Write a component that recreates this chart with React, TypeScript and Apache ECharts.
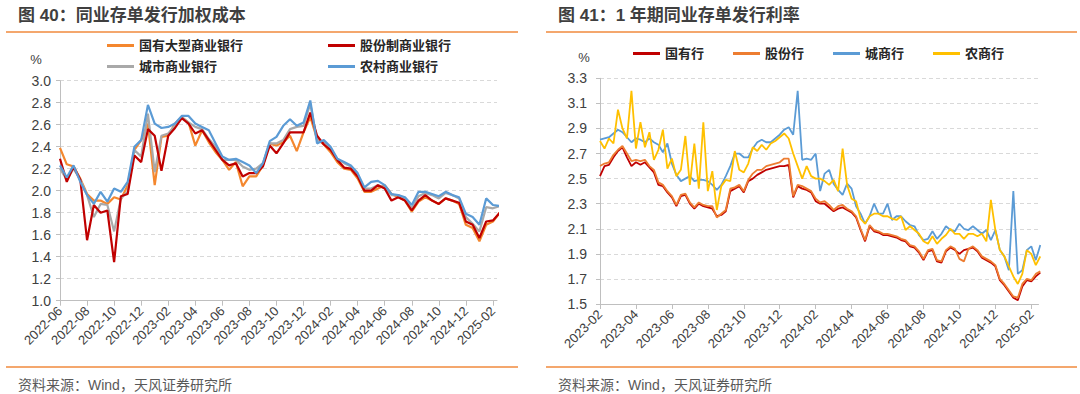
import React, { useEffect, useRef } from "react";
import * as echarts from "echarts";

const FONT = '"Liberation Sans", Arial, "Noto Sans CJK SC", sans-serif';

// ---------- Left chart: 同业存单发行加权成本 (semi-monthly samples from 2022-06) ----------
const leftTickLabels = [
  "2022-06", "2022-08", "2022-10", "2022-12", "2023-02", "2023-04", "2023-06", "2023-08",
  "2023-10", "2023-12", "2024-02", "2024-04", "2024-06", "2024-08", "2024-10", "2024-12", "2025-02",
];
const LEFT_STEP = 0.5; // months per sample
const leftNames = ["国有大型商业银行", "股份制商业银行", "城市商业银行", "农村商业银行"];
const bigBank = [
  2.39, 2.24, 2.22, 2.11, 1.97, 1.91, 1.91, 1.88, 1.94, 1.92, 2.05, 2.37, 2.46, 2.61, 2.05, 2.49,
  2.5, 2.61, 2.67, 2.62, 2.41, 2.55, 2.44, 2.35, 2.28, 2.19, 2.26, 2.04, 2.13, 2.13, 2.23, 2.43,
  2.41, 2.44, 2.5, 2.36, 2.53, 2.67, 2.47, 2.42, 2.35, 2.26, 2.2, 2.19, 2.11, 1.99, 1.99, 2.02,
  2.05, 1.97, 1.94, 1.91, 1.81, 1.9, 1.94, 1.91, 1.88, 1.93, 1.91, 1.88, 1.69, 1.66, 1.54, 1.69,
  1.72, 1.8,
];
const jointStock = [
  2.29, 2.08, 2.22, 2.1, 1.55, 1.87, 1.8, 1.82, 1.35, 1.95, 1.97, 2.32, 2.26, 2.56, 2.5, 2.18,
  2.5, 2.57, 2.66, 2.61, 2.52, 2.55, 2.46, 2.37, 2.28, 2.23, 2.25, 2.13, 2.16, 2.16, 2.22, 2.41,
  2.34, 2.43, 2.53, 2.53, 2.53, 2.71, 2.5, 2.42, 2.37, 2.28, 2.21, 2.2, 2.13, 2.0, 2.0, 2.05,
  2.02, 1.91, 1.94, 1.91, 1.82, 1.91, 1.96, 1.91, 1.88, 1.93, 1.91, 1.89, 1.72, 1.69, 1.57, 1.72,
  1.73, 1.8,
];
const cityBank = [
  2.2, 2.1, 2.2, 2.1, 1.96, 1.76, 1.88, 1.87, 1.63, 1.93, 1.99, 2.37, 2.31, 2.7, 2.17, 2.5,
  2.52, 2.59, 2.67, 2.62, 2.58, 2.56, 2.47, 2.4, 2.28, 2.28, 2.28, 2.22, 2.19, 2.2, 2.25, 2.43,
  2.43, 2.46, 2.56, 2.58, 2.59, 2.79, 2.46, 2.44, 2.38, 2.29, 2.25, 2.22, 2.14, 2.02, 2.02, 2.05,
  2.03, 1.96, 1.96, 1.93, 1.84, 1.95, 1.98, 1.96, 1.93, 1.98, 1.96, 1.93, 1.76, 1.7, 1.63, 1.85,
  1.84, 1.86,
];
const ruralBank = [
  2.23, 2.12, 2.23, 2.08, 1.96, 1.88, 1.99, 1.9, 2.02, 1.99, 2.08, 2.4, 2.46, 2.78, 2.61, 2.57,
  2.58, 2.61, 2.68, 2.68, 2.61, 2.58, 2.55, 2.43, 2.31, 2.28, 2.29, 2.26, 2.23, 2.16, 2.25, 2.45,
  2.49, 2.59, 2.65, 2.59, 2.62, 2.82, 2.43, 2.46, 2.4, 2.29, 2.26, 2.23, 2.16, 2.03, 2.08, 2.09,
  2.05, 1.97, 1.96, 1.94, 1.87, 1.99, 1.99, 1.97, 1.95, 1.99, 1.96, 1.94, 1.79, 1.76, 1.69, 1.93,
  1.87, 1.86,
];

// ---------- Right chart: 1年期同业存单发行利率 (quarter-month samples from 2023-02) ----------
const rightTickLabels = [
  "2023-02", "2023-04", "2023-06", "2023-08", "2023-10", "2023-12", "2024-02",
  "2024-04", "2024-06", "2024-08", "2024-10", "2024-12", "2025-02",
];
const rightYLabels = ["1.5", "1.7", "1.9", "2.1", "2.3", "2.5", "2.7", "2.9", "3.1", "3.3"];
const RIGHT_STEP = 0.25;
const rightNames = ["国有行", "股份行", "城商行", "农商行"];
const stateOwned = [
  2.52, 2.6, 2.61, 2.67, 2.72, 2.75, 2.67, 2.6, 2.63, 2.61, 2.63, 2.59, 2.55, 2.45, 2.44, 2.39,
  2.35, 2.28, 2.36, 2.37, 2.3, 2.26, 2.3, 2.28, 2.27, 2.26, 2.2, 2.21, 2.24, 2.4, 2.42, 2.44,
  2.39, 2.48, 2.5, 2.53, 2.55, 2.57, 2.58, 2.59, 2.6, 2.6, 2.61, 2.35, 2.44, 2.42, 2.41, 2.39,
  2.32, 2.3, 2.3, 2.27, 2.24, 2.26, 2.27, 2.25, 2.23, 2.19, 2.09, 2.0, 2.12, 2.08, 2.07, 2.05,
  2.05, 2.04, 2.03, 2.01, 2.0, 1.96, 1.95, 1.91, 1.85, 1.92, 1.93, 1.84, 1.83, 1.92, 1.95, 1.93,
  1.9, 1.93, 1.94, 1.95, 1.92, 1.87, 1.85, 1.83, 1.8, 1.69, 1.65, 1.6, 1.55, 1.53, 1.64, 1.69,
  1.68, 1.72, 1.75,
];
const jointStockR = [
  2.6, 2.62, 2.63, 2.69, 2.73, 2.76, 2.7, 2.64, 2.65, 2.64, 2.65, 2.6, 2.57, 2.47, 2.45, 2.4,
  2.36, 2.29, 2.37, 2.38, 2.31, 2.27, 2.31, 2.29, 2.28, 2.28, 2.19, 2.22, 2.25, 2.42, 2.43, 2.45,
  2.4, 2.49, 2.54, 2.57, 2.57, 2.6, 2.61, 2.62, 2.63, 2.66, 2.66, 2.36, 2.45, 2.44, 2.42, 2.4,
  2.34, 2.31, 2.32, 2.29, 2.25, 2.28, 2.29, 2.26, 2.24, 2.2, 2.1, 2.01, 2.13, 2.09, 2.08, 2.06,
  2.06, 2.05, 2.04, 2.02, 2.01, 1.97, 1.96, 1.92, 1.86, 1.93, 1.94, 1.85, 1.84, 1.93, 1.96, 1.94,
  1.86, 1.84, 1.94, 1.96, 1.93, 1.88, 1.86, 1.84, 1.81, 1.7, 1.66, 1.61, 1.56, 1.55, 1.66, 1.7,
  1.69, 1.74, 1.76,
];
const cityBankR = [
  2.81, 2.82, 2.83, 2.86, 2.89, 2.87, 2.83, 2.79, 2.82, 2.81, 2.79, 2.82, 2.79, 2.77, 2.71, 2.78,
  2.62, 2.53, 2.48, 2.5, 2.52, 2.48, 2.49, 2.49, 2.48, 2.45, 2.41, 2.45, 2.52, 2.6, 2.7, 2.7,
  2.67, 2.67, 2.74, 2.79, 2.81, 2.79, 2.79, 2.82, 2.85, 2.89, 2.91, 2.85, 3.2, 2.65, 2.66, 2.65,
  2.7, 2.4, 2.54, 2.57, 2.46, 2.41, 2.37, 2.46, 2.42, 2.28, 2.22, 2.14, 2.2, 2.3, 2.22, 2.22,
  2.3, 2.17, 2.2, 2.2, 2.16, 2.13, 2.12, 2.05, 2.01, 2.02, 2.08, 2.02, 2.06, 2.12, 2.09, 2.08,
  2.14, 2.1, 2.09, 2.12, 2.09, 2.06, 2.09, 2.01, 2.09, 1.93, 1.88, 1.77, 2.4, 1.74, 1.77, 1.93,
  1.96, 1.85, 1.97,
];
const ruralBankR = [
  2.8, 2.74, 2.82, 2.78, 3.05, 2.9, 2.82, 3.2, 2.74, 2.95, 2.75, 2.87, 2.65, 2.73, 2.89, 2.58,
  2.66, 2.52, 2.57, 2.84, 2.45, 2.78, 2.42, 2.95, 2.4, 2.56, 2.25, 2.44, 2.49, 2.48, 2.72, 2.57,
  2.55, 2.62, 2.75, 2.72, 2.77, 2.73, 2.78, 2.8, 2.83, 2.86, 2.82, 2.7, 2.6, 2.5, 2.6, 2.52,
  2.5, 2.5, 2.48, 2.45, 2.49, 2.4, 2.74, 2.45, 2.34, 2.32, 2.18, 2.14, 2.2, 2.22, 2.22, 2.2,
  2.2, 2.18, 2.17, 2.2, 2.09, 2.12, 2.09, 2.06, 2.0, 1.98, 2.04, 1.98, 2.02, 2.05, 2.1, 2.06,
  2.06, 2.02, 2.06, 2.06, 2.04, 2.06, 2.0, 2.33, 2.09, 1.93, 1.88, 1.8, 1.72, 1.66, 1.74, 1.93,
  1.9, 1.81, 1.88,
];

const leftColors = ["#F4872E", "#C00000", "#A9A9A9", "#5B9BD5"];
const rightColors = ["#C00000", "#ED7D31", "#5B9BD5", "#FFC000"];

const AXIS_GRAY = "#BFBFBF";
const GRID_GRAY = "#D9D9D9";
const TEXT = "#404040";

function toPoints(arr: number[], step: number) {
  return arr.map((v, i) => [i * step, v]);
}

function monthFormatter(labels: string[]) {
  return (v: number) => {
    const k = v / 2;
    if (Math.abs(k - Math.round(k)) > 1e-6) return "";
    return labels[Math.round(k)] ?? "";
  };
}

export default function App() {
  const ref = useRef<HTMLDivElement>(null);

  useEffect(() => {
    if (!ref.current) return;
    const chart = echarts.init(ref.current, undefined, { renderer: "svg" });

    const leftTickVals = leftTickLabels.map((_, k) => k * 2);
    const rightTickVals = rightTickLabels.map((_, k) => k * 2);

    const legendText = { fontSize: 13, fontWeight: "bold" as const, color: "#262626", fontFamily: FONT };
    const legendBase = {
      orient: "horizontal" as const,
      padding: 0,
      icon: "rect",
      itemWidth: 27,
      itemHeight: 3,
      textStyle: legendText,
      selectedMode: false,
    };

    const leftSeriesData = [bigBank, jointStock, cityBank, ruralBank];
    const leftDrawOrder = [0, 2, 1, 3];
    const rightSeriesData = [stateOwned, jointStockR, cityBankR, ruralBankR];

    const option: any = {
      animation: false,
      textStyle: { fontFamily: FONT },
      grid: [
        { left: 60, top: 80.7, width: 437, height: 220, containLabel: false },
        { left: 600, top: 78.3, width: 438.5, height: 225.7, containLabel: false },
      ],
      legend: [
        { ...legendBase, data: [leftNames[0]], left: 107, top: 39 },
        { ...legendBase, data: [leftNames[1]], left: 328, top: 39 },
        { ...legendBase, data: [leftNames[2]], left: 107, top: 60 },
        { ...legendBase, data: [leftNames[3]], left: 328, top: 60 },
        { ...legendBase, data: rightNames, left: 633, top: 47, itemGap: 29 },
      ],
      xAxis: [
        {
          type: "value",
          gridIndex: 0,
          min: 0,
          max: 32.3,
          interval: 2,
          axisLine: { show: true, onZero: false, lineStyle: { color: AXIS_GRAY, width: 1 } },
          axisTick: { show: true, length: 5, lineStyle: { color: AXIS_GRAY }, customValues: leftTickVals },
          axisLabel: {
            rotate: 45,
            fontSize: 13,
            color: TEXT,
            margin: 8,
            fontFamily: FONT,
            customValues: leftTickVals,
            formatter: monthFormatter(leftTickLabels),
          },
          splitLine: { show: false },
        },
        {
          type: "value",
          gridIndex: 1,
          min: 0,
          max: 24.4,
          interval: 2,
          axisLine: { show: true, onZero: false, lineStyle: { color: AXIS_GRAY, width: 1 } },
          axisTick: { show: true, length: 5, lineStyle: { color: AXIS_GRAY }, customValues: rightTickVals },
          axisLabel: {
            rotate: 45,
            fontSize: 13,
            color: TEXT,
            margin: 8,
            fontFamily: FONT,
            customValues: rightTickVals,
            formatter: monthFormatter(rightTickLabels),
          },
          splitLine: { show: false },
        },
      ],
      yAxis: [
        {
          type: "value",
          gridIndex: 0,
          min: 1,
          max: 3,
          interval: 0.2,
          axisLine: { show: true, lineStyle: { color: AXIS_GRAY } },
          axisTick: { show: true, length: 4, lineStyle: { color: AXIS_GRAY } },
          axisLabel: { fontSize: 14, color: TEXT, margin: 9, fontFamily: FONT, formatter: (v: number) => v.toFixed(1) },
          splitLine: { show: true, lineStyle: { color: GRID_GRAY, type: [4, 3] } },
        },
        {
          type: "value",
          gridIndex: 1,
          min: 0,
          max: rightYLabels.length - 1,
          interval: 1,
          axisLine: { show: true, lineStyle: { color: AXIS_GRAY } },
          axisTick: { show: true, length: 4, lineStyle: { color: AXIS_GRAY } },
          axisLabel: {
            fontSize: 14,
            color: TEXT,
            margin: 13,
            fontFamily: FONT,
            formatter: (v: number) => rightYLabels[Math.round(v)] ?? "",
          },
          splitLine: { show: true, lineStyle: { color: GRID_GRAY, type: [4, 3] } },
        },
        {
          type: "value",
          gridIndex: 1,
          min: Number(rightYLabels[0]),
          max: Number(rightYLabels[rightYLabels.length - 1]),
          show: false,
          splitLine: { show: false },
        },
      ],
      series: [
        ...leftDrawOrder.map((k) => ({
          name: leftNames[k],
          type: "line",
          xAxisIndex: 0,
          yAxisIndex: 0,
          data: toPoints(leftSeriesData[k], LEFT_STEP),
          showSymbol: false,
          symbol: "none",
          clip: true,
          lineStyle: { width: 2.2, color: leftColors[k] },
          itemStyle: { color: leftColors[k] },
        })),
        ...rightSeriesData.map((arr, k) => ({
          name: rightNames[k],
          type: "line",
          xAxisIndex: 1,
          yAxisIndex: 2,
          data: toPoints(arr, RIGHT_STEP),
          showSymbol: false,
          symbol: "none",
          clip: true,
          lineStyle: { width: 1.8, color: rightColors[k] },
          itemStyle: { color: rightColors[k] },
        })),
      ],
      graphic: [
        {
          type: "text",
          x: 18,
          y: 15,
          style: { text: "图 40：同业存单发行加权成本", fill: "#3F3F3F", fontSize: 17, fontWeight: "bold", fontFamily: FONT, verticalAlign: "middle" },
        },
        {
          type: "text",
          x: 558,
          y: 15,
          style: { text: "图 41：1 年期同业存单发行利率", fill: "#3F3F3F", fontSize: 17, fontWeight: "bold", fontFamily: FONT, verticalAlign: "middle" },
        },
        { type: "line", shape: { x1: 6, y1: 32, x2: 518, y2: 32 }, style: { stroke: "#F08A3C", lineWidth: 1.5 } },
        { type: "line", shape: { x1: 546, y1: 32, x2: 1077, y2: 32 }, style: { stroke: "#F08A3C", lineWidth: 1.5 } },
        { type: "line", shape: { x1: 6, y1: 367, x2: 518, y2: 367 }, style: { stroke: "#F08A3C", lineWidth: 1.5 } },
        { type: "line", shape: { x1: 546, y1: 367, x2: 1077, y2: 367 }, style: { stroke: "#F08A3C", lineWidth: 1.5 } },
        {
          type: "text",
          x: 36,
          y: 59,
          style: { text: "%", fill: TEXT, fontSize: 13, fontFamily: FONT, align: "center", verticalAlign: "middle" },
        },
        {
          type: "text",
          x: 584,
          y: 57,
          style: { text: "%", fill: TEXT, fontSize: 13, fontFamily: FONT, align: "center", verticalAlign: "middle" },
        },
        {
          type: "text",
          x: 18,
          y: 385,
          style: { text: "资料来源：Wind，天风证券研究所", fill: "#595959", fontSize: 14, fontFamily: FONT, verticalAlign: "middle" },
        },
        {
          type: "text",
          x: 558,
          y: 385,
          style: { text: "资料来源：Wind，天风证券研究所", fill: "#595959", fontSize: 14, fontFamily: FONT, verticalAlign: "middle" },
        },
      ],
    };

    chart.setOption(option);
    return () => chart.dispose();
  }, []);

  return (
    <div
      ref={ref}
      style={{ position: "absolute", left: 0, top: 0, width: 1080, height: 394, background: "#FFFFFF" }}
    />
  );
}
